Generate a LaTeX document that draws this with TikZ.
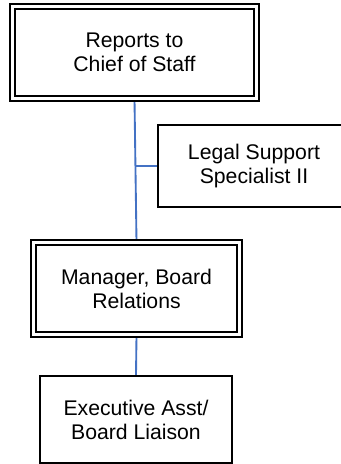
\documentclass[tikz,border=0pt]{standalone}
\usepackage{fontspec}
\setmainfont{Liberation Sans}
\usetikzlibrary{backgrounds}
\definecolor{linkblue}{HTML}{4472C4}
\tikzset{
  box/.style={draw=black, line width=1.6pt, fill=white, align=center, inner sep=0pt,
    font=\fontsize{15.9}{18}\selectfont},
  dbox/.style={box, line width=1.3pt, double=white, double distance=2.4pt},
  link/.style={draw=linkblue, line width=1.4pt},
}
\begin{document}
\begin{tikzpicture}[x=0.75pt,y=-0.75pt]
  \useasboundingbox (0,0) rectangle (340,464);
  \node[dbox, minimum width=183pt, minimum height=69pt] (top) at (134.5,52.5) {Reports to\\Chief of Staff};
  \node[box, minimum width=144pt, minimum height=61.5pt] (legal) at (254,166) {Legal Support\\Specialist II};
  \node[dbox, minimum width=154.5pt, minimum height=69pt] (mgr) at (136.5,288.5) {Manager, Board\\Relations};
  \node[box, minimum width=144pt, minimum height=65.25pt] (exec) at (136,419.5) {Executive Asst/\\Board Liaison};
  \begin{scope}[on background layer]
    \draw[link] (top.south) -- (mgr.north);
    \draw[link] (legal.west) -- (legal.west -| top.south);
    \draw[link] (mgr.south) -- (exec.north);
  \end{scope}
\end{tikzpicture}
\end{document}
